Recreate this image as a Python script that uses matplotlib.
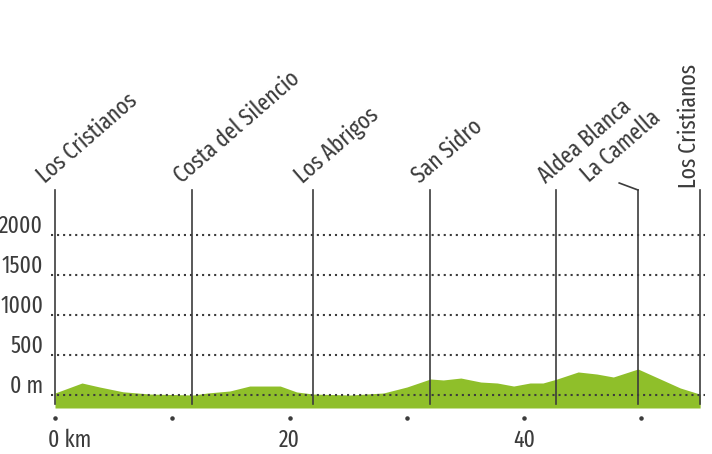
import matplotlib.pyplot as plt

# elevation profile (km, m)
km = [0, 2.3, 3.8, 5.8, 8.1, 11.8, 13.0, 14.9, 16.6, 19.2, 20.6, 22.0, 25.2, 28.0,
      30.0, 32.0, 33.1, 34.6, 36.3, 37.7, 39.1, 40.5, 41.6, 42.8, 44.6, 46.2,
      47.6, 49.7, 51.6, 53.3, 55.0]
elev = [25, 150, 100, 40, 12, 0, 25, 50, 112, 112, 38, 12, 0, 25,
        100, 200, 188, 212, 162, 150, 112, 150, 150, 200, 288, 262,
        225, 325, 200, 88, 10]

places = ["Los Cristianos", "Costa del Silencio", "Los Abrigos", "San Sidro",
          "Aldea Blanca", "La Camella", "Los Cristianos"]
place_km = [0, 11.7, 22.0, 32.0, 42.7, 49.7, 55.0]

y_levels = [0, 500, 1000, 1500, 2000]
y_labels = ["0 m", "500", "1000", "1500", "2000"]
x_ticks = [0, 10, 20, 30, 40, 50]
x_labels = {0: "0 km", 20: "20", 40: "40"}

plt.rcParams["font.family"] = ["Fira Sans Extra Condensed", "DejaVu Sans"]
plt.rcParams["font.weight"] = "normal"

GREEN = "#8fbf2a"
INK = "#3c3c3c"
PX_KM = 11.73      # pixels per km
PX_M = 0.08        # pixels per metre
FS = 17
ROT = 41

fig = plt.figure(figsize=(7.12, 4.54), dpi=100)
ax = fig.add_axes([0, 0, 1, 1])
ax.set_xlim(-55 / PX_KM, (712 - 55) / PX_KM)
ax.set_ylim(-(454 - 395) / PX_M, 395 / PX_M)
ax.axis("off")

base = -13 / PX_M
ax.fill_between(km, elev, base, color=GREEN, lw=0, zorder=1)

# dotted grid
for lv, lab in zip(y_levels, y_labels):
    ax.plot([-0.3, 55.4], [lv, lv], color=INK, lw=1.5, ls=(0, (1, 1.9)), zorder=2)
    ax.text(-1.0, lv + 115, lab, ha="right", va="center", fontsize=FS, color=INK)

# km ticks
ax.scatter(x_ticks, [-23 / PX_M] * len(x_ticks), s=5, color=INK, zorder=3)
for k, lab in x_labels.items():
    xx = k - 0.6 if k == 0 else k
    ax.text(xx, -45 / PX_M, lab, ha="left" if k == 0 else "center", va="center",
            fontsize=FS, color=INK)

# place markers
top = 205 / PX_M
for name, k in zip(places, place_km):
    ax.plot([k, k], [-9 / PX_M, top], color=INK, lw=1.2, zorder=3)
    if name == "La Camella":
        lx, ly = k - 1.6, top + 7 / PX_M
        ax.plot([k, lx], [top, ly], color=INK, lw=1.2)
        ax.text(k - 3.9, top + 3 / PX_M, name, rotation=ROT, rotation_mode="anchor",
                ha="left", va="bottom", fontsize=FS, color=INK)
    elif k == place_km[-1]:
        ax.text(k + 0.1, top + 2 / PX_M, name, rotation=90, rotation_mode="anchor",
                ha="left", va="bottom", fontsize=FS, color=INK)
    else:
        ax.text(k - 0.6, top + 2 / PX_M, name, rotation=ROT, rotation_mode="anchor",
                ha="left", va="bottom", fontsize=FS, color=INK)

fig.savefig("out.png", dpi=100)
